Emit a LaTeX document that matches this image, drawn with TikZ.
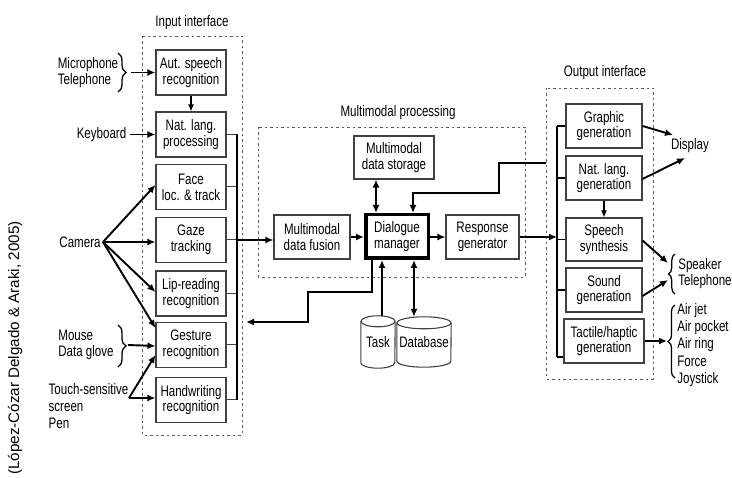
\documentclass[tikz,border=0pt]{standalone}
\usepackage{fontspec}
\setmainfont[FakeStretch=0.76]{Liberation Sans}
\newfontfamily\captfont{Liberation Sans}
\usetikzlibrary{arrows.meta,decorations.pathreplacing,calc}
\definecolor{boxgray}{gray}{0.25}
\definecolor{dashgray}{gray}{0.35}

\begin{document}
\begin{tikzpicture}[x=1pt,y=-1pt,
  every node/.style={font=\fontsize{15.2}{15.8}\selectfont, align=center, inner sep=0pt},
  blk/.style={draw=boxgray, line width=1.1pt, minimum width=70pt, minimum height=45pt},
  dmbox/.style={draw=black, line width=3.5pt, minimum width=62.5pt, minimum height=43.5pt},
  grp/.style={draw=dashgray, line width=0.9pt, dash pattern=on 2.5pt off 3pt},
  conn/.style={draw=black, line width=1.9pt, -{Latex[length=8pt,width=7pt]}},
  dconn/.style={draw=black, line width=1.9pt, {Latex[length=8pt,width=7pt]}-{Latex[length=8pt,width=7pt]}},
  sconn/.style={draw=black, line width=1.2pt, -{Latex[length=7pt,width=6pt]}},
  stub/.style={draw=boxgray, line width=1pt},
  bus/.style={draw=black, line width=1.9pt},
  brc/.style={draw=black, line width=1.3pt, decorate, decoration={brace, amplitude=#1}},
  cylline/.style={draw=boxgray, line width=1.1pt},
  lbl/.style={align=left}
]
\useasboundingbox (0,0) rectangle (732,478);

% ---------- group frames and titles ----------
\draw[grp] (142,36) rectangle (242,435);
\draw[grp] (258,127) rectangle (525,277);
\draw[grp] (546,88) rectangle (653,379);
\node (tin)  at (192,23)  {Input interface};
\node (tmm)  at (398,113) {Multimodal processing};
\node (tout) at (605,73)  {Output interface};

% ---------- input interface ----------
\node[blk] (asr)  at (191,72.5)  {Aut. speech\\recognition};
\node[blk] (nlp)  at (191,134.5) {Nat. lang.\\processing};
\node[blk] (face) at (191,187)   {Face\\loc. \& track};
\node[blk] (gaze) at (191,240)   {Gaze\\tracking};
\node[blk] (lip)  at (191,293.5) {Lip-reading\\recognition};
\node[blk] (gest) at (191,345)   {Gesture\\recognition};
\node[blk] (hw)   at (191,400)   {Handwriting\\recognition};
\draw[sconn] (asr.south) -- (nlp.north);

\coordinate (busin) at (237,0);
\foreach \b in {nlp,face,gaze,lip,gest,hw}
  \draw[stub] (\b.east) -- (\b.east -| busin);
\draw[bus] (nlp.east -| busin) -- (hw.east -| busin);

% ---------- input devices ----------
\node[lbl] (mic) at (88,72.5) {Microphone\\Telephone};
\coordinate (micT) at (118,53);
\coordinate (micB) at (118,92);
\draw[brc=8pt] (micT) -- (micB);
\draw[conn] ([xshift=13pt]mic.east) -- (asr.west);

\node (kbd) at (101.5,134.5) {Keyboard};
\draw[conn] ([xshift=4pt]kbd.east) -- (nlp.west);

\node (cam) at (80,242) {Camera};
\coordinate (camp) at (103,242);
\draw[conn] (camp) -- ([yshift=2pt]face.west);
\draw[conn] (camp) -- (camp -| gaze.west);
\draw[conn] (camp) -- ([yshift=1.5pt]lip.west);
\draw[conn] (camp) -- ([yshift=17pt]gest.west);

\node[lbl] (mouse) at (86,345) {Mouse\\Data glove};
\coordinate (mouT) at (118,325);
\coordinate (mouB) at (118,367);
\draw[brc=8pt] (mouT) -- (mouB);
\draw[conn] ([xshift=14pt]mouse.east) -- ([yshift=-1pt]gest.west);

\node[lbl, font=\fontsize{15.2}{17}\selectfont] (touch) at (88.5,406) {Touch-sensitive\\screen\\Pen};
\coordinate (touchp) at (129,398);
\draw[conn] (touchp) -- ([yshift=-10pt]gest.west);
\draw[conn] (touchp) -- (touchp -| hw.west);

% ---------- multimodal processing ----------
\node[blk, minimum width=76pt, minimum height=44pt] (fusion) at (312,237)   {Multimodal\\data fusion};
\node[dmbox]                                         (dm)     at (397,236.5) {Dialogue\\manager};
\node[blk, minimum width=73pt, minimum height=44pt] (resp)   at (482.5,237) {Response\\generator};
\node[blk, minimum width=80pt, minimum height=43pt] (store)  at (394,157.5) {Multimodal\\data storage};

\draw[conn] (gaze.east -| busin) -- (gaze.east -| fusion.west);
\draw[conn] (fusion.east) -- (fusion.east -| dm.west);
\draw[conn] (dm.east |- resp.west) -- (resp.west);
\draw[dconn] ([xshift=-18pt]store.south) -- ([xshift=-18pt]store.south |- dm.north);

% line arriving from the output side
\coordinate (outedge) at (546,163);
\coordinate (stepA) at (499,193);
\draw[conn] (outedge) -| (stepA) -| ([xshift=16pt]dm.north);

% feedback towards the input interface
\coordinate (fbA) at (308,292);
\coordinate (fbEnd) at (246,322);
\draw[conn] ([xshift=-25pt]dm.south) |- (fbA) |- (fbEnd);

% ---------- task and database stores ----------
\node[minimum width=34pt, minimum height=52pt] (task) at (378,342) {Task};
\draw[cylline] ([yshift=-5.5pt]task.north west) -- ([yshift=5.5pt]task.south west)
  arc[start angle=180, end angle=0, x radius=17, y radius=5.5] -- ([yshift=-5.5pt]task.north east);
\draw[cylline] ([yshift=-5.5pt]task.north) ellipse[x radius=17, y radius=5.5];

\node[minimum width=54pt, minimum height=50pt] (db) at (424,342) {Database};
\draw[cylline] ([yshift=-6pt]db.north west) -- ([yshift=6pt]db.south west)
  arc[start angle=180, end angle=0, x radius=27, y radius=6] -- ([yshift=-6pt]db.north east);
\draw[cylline] ([yshift=-6pt]db.north) ellipse[x radius=27, y radius=6];

\draw[conn] ([xshift=4pt]task.north) -- ([xshift=4pt]task.north |- dm.south);
\draw[dconn] ([xshift=-10pt]db.north) -- ([xshift=-10pt]db.north |- dm.south);

% ---------- output interface ----------
\node[blk, minimum width=76pt, minimum height=44pt] (graph)  at (604,126)   {Graphic\\generation};
\node[blk, minimum width=76pt, minimum height=44pt] (nlg)    at (604,178)   {Nat. lang.\\generation};
\node[blk, minimum width=76pt, minimum height=43pt] (speech) at (604,239.5) {Speech\\synthesis};
\node[blk, minimum width=76pt, minimum height=44pt] (sound)  at (604,290)   {Sound\\generation};
\node[blk, minimum width=80pt, minimum height=44pt] (tact)   at (604,341)   {Tactile/haptic\\generation};
\draw[sconn] (nlg.south) -- (speech.north);

\coordinate (busout) at (557,0);
\foreach \b in {graph,nlg,speech,sound}
  \draw[bus] (\b.west -| busout) -- (\b.west);
\draw[bus] ([yshift=-16pt]tact.west -| busout) -- ([yshift=-16pt]tact.west);
\draw[bus] (graph.west -| busout) -- ([yshift=-16pt]tact.west -| busout);
\draw[conn] (resp.east) -- (resp.east -| busout);

% ---------- output devices ----------
\node (disp) at (690,146) {Display};
\draw[conn] (graph.east) -- ($(disp.center)+(-17,-11)$);
\draw[conn] ([yshift=-1pt]nlg.east) -- ($(disp.center)+(-5,12)$);

\node[lbl] (spk) at (705,273.5) {Speaker\\Telephone};
\coordinate (spkB) at (675,294);
\coordinate (spkT) at (675,254);
\draw[brc=6.5pt] (spkB) -- (spkT);
\draw[conn] ([yshift=-1pt]speech.east) -- (668,263);
\draw[conn] ([yshift=-6pt]sound.east) -- (668,280);

\node[lbl, font=\fontsize{15.2}{17.2}\selectfont] (air) at (703,345) {Air jet\\Air pocket\\Air ring\\Force\\Joystick};
\coordinate (airB) at (675,378);
\coordinate (airT) at (675,305);
\draw[brc=7pt] (airB) -- (airT);
\draw[conn] (tact.east) -- (tact.east -| 667,0);

% ---------- source note ----------
\node[rotate=90, font=\captfont\fontsize{15.2}{16}\selectfont] (cite) at (15,348) {(López-Cózar Delgado \& Araki, 2005)};
\end{tikzpicture}
\end{document}
